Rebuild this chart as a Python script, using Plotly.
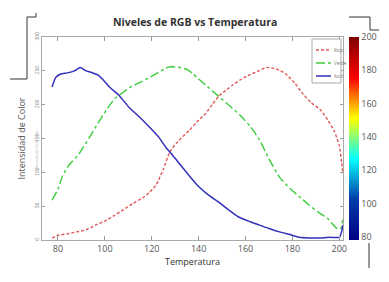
import plotly.graph_objects as go

# ---- data ----
temp_r = [77.5, 80, 84, 88, 92, 96, 100, 104, 108, 112, 116, 119, 122, 125, 127.7, 131, 136, 140,
          143, 146, 149, 152, 154.5, 157.5, 161, 165, 169, 173, 177, 181, 184, 188, 192, 195, 198,
          200, 201, 201.5]
rojo = [3, 7, 9, 12, 15, 22, 28, 36, 45, 54, 62, 70, 82, 105, 130, 145, 162, 177,
        187, 201, 214, 222, 229, 236, 243, 249, 255, 253, 246, 232, 218, 203, 192, 178, 160,
        140, 115, 100]

temp_g = [77.5, 80, 82, 85, 88.5, 91, 94, 97, 101, 104, 107.7, 111, 115, 119, 122, 126, 128, 132,
          135, 137.5, 140, 143, 147, 152, 157.5, 162, 166, 170, 174.5, 179, 183, 187, 191.5, 195,
          198.7, 200.5, 201.5]
verde = [59, 75, 95, 112, 125, 138, 155, 172, 194, 208, 218, 226, 233, 240, 246, 254, 256, 255,
         252, 246, 238, 229, 217, 202, 185, 168, 148, 120, 93, 76, 64, 52, 40, 32,
         18, 16, 30]

temp_b = [77.5, 79, 81, 84, 87, 89.5, 92, 94, 97, 100, 102, 106, 110.6, 115, 119, 123, 126, 129,
          132, 136, 140, 144, 149, 153, 157, 162, 166, 170, 174.5, 179, 183, 187, 191.5, 196,
          200, 201, 201.5]
azul = [226, 240, 245, 247, 250, 255, 250, 248, 244, 234, 226, 214, 195, 181, 167, 152, 137, 125,
        112, 95, 79, 67, 55, 44, 34, 27, 22, 17, 12, 8, 4, 3, 3, 4,
        4, 12, 22]

series_names = ["Rojo", "Verde", "Azul"]
series_colors = ["#e05555", "#3ccc3c", "#3030b8"]
series_dash = ["3px,2px", "dashdot", "solid"]
series_width = [1.4, 1.4, 1.5]
x_ticks = [80, 100, 120, 140, 160, 180, 200]
y_ticks = [0, 50, 100, 150, 200, 250, 300]
cbar_range = [78, 200]
cbar_ticks = [80, 100, 120, 140, 160, 180, 200]

W, H = 389, 282
L, R, T, B = 42, 343, 37, 240

fig = go.Figure()
for xs, ys, i in [(temp_r, rojo, 0), (temp_g, verde, 1), (temp_b, azul, 2)]:
    fig.add_trace(go.Scatter(x=xs, y=ys, mode="lines", name=series_names[i], showlegend=False,
                             line=dict(color=series_colors[i], width=series_width[i],
                                       dash=series_dash[i], shape="spline", smoothing=0.5)))
# colour scale bar
fig.add_trace(go.Scatter(x=[temp_b[0]], y=[azul[0]], mode="markers", showlegend=False,
                         hoverinfo="skip",
                         marker=dict(size=0.1, opacity=0, color=[cbar_range[0]],
                                     colorscale="Jet", cmin=cbar_range[0], cmax=cbar_range[1],
                                     showscale=True,
                                     colorbar=dict(x=(349 - L) / (R - L), xanchor="left", xpad=0,
                                                   y=0.5, yanchor="middle", len=1, ypad=0,
                                                   thickness=10, outlinewidth=0,
                                                   tickvals=cbar_ticks, ticks="",
                                                   tickfont=dict(size=9, color="#555",
                                                                 family="Open Sans")))))


def px(x):
    return (x - L) / (R - L)


def py(y):
    return (B - y) / (B - T)


shapes = []
crop = [
    (27, 17, 27, 79), (27, 17, 36, 17), (36, 13, 36, 17), (10, 79, 27, 79),
    (349, 17, 370, 17), (370, 17, 370, 30), (370, 30, 379, 30),
    (369, 243, 369, 268),
]
for x0, y0, x1, y1 in crop:
    shapes.append(dict(type="line", xref="paper", yref="paper", x0=px(x0), y0=py(y0),
                       x1=px(x1), y1=py(y1), line=dict(color="#333", width=1)))

# compact legend
shapes.append(dict(type="rect", xref="paper", yref="paper", x0=px(312), y0=py(39),
                   x1=px(341), y1=py(83), line=dict(color="#aaa", width=1), fillcolor="white"))
annotations = []
for i, yy in enumerate([50, 63, 76]):
    shapes.append(dict(type="line", xref="paper", yref="paper", x0=px(316), y0=py(yy),
                       x1=px(331), y1=py(yy),
                       line=dict(color=series_colors[i], width=series_width[i],
                                 dash=series_dash[i])))
    annotations.append(dict(text=series_names[i], xref="paper", yref="paper", x=px(332),
                            y=py(yy), xanchor="left", yanchor="middle", showarrow=False,
                            font=dict(size=4.5, color="#777")))
annotations.append(dict(text="Intensidad RGB valor", xref="paper", yref="paper",
                        x=px(31), y=py(150), textangle=-90, showarrow=False,
                        font=dict(size=4, color="#bbb")))

fig.update_layout(
    width=W, height=H,
    margin=dict(l=L, r=W - R, t=T, b=H - B),
    paper_bgcolor="white", plot_bgcolor="white",
    font=dict(family="Open Sans", color="#444"),
    title=dict(text="<b>Niveles de RGB vs Temperatura</b>", x=px(193), xanchor="center",
               y=1 - 22 / H, yanchor="middle", font=dict(size=10.5, color="#333")),
    xaxis=dict(range=[73.2, 201.6], tickvals=x_ticks, ticks="inside", ticklen=4,
               tickcolor="#999", showline=True, linecolor="#aaa", mirror="ticks",
               showgrid=False, zeroline=False,
               tickfont=dict(size=9, color="#555"),
               title=dict(text="Temperatura", font=dict(size=9, color="#333"), standoff=2)),
    yaxis=dict(range=[0, 300], tickvals=y_ticks, ticks="inside", ticklen=3,
               tickcolor="#999", showline=True, linecolor="#aaa", mirror="ticks",
               showgrid=False, zeroline=False,
               tickfont=dict(size=5, color="#888"), tickangle=-90,
               title=dict(text="Intensidad de Color", font=dict(size=9, color="#555"),
                          standoff=6)),
    shapes=shapes,
    annotations=annotations,
)

fig.write_html("out.html")
